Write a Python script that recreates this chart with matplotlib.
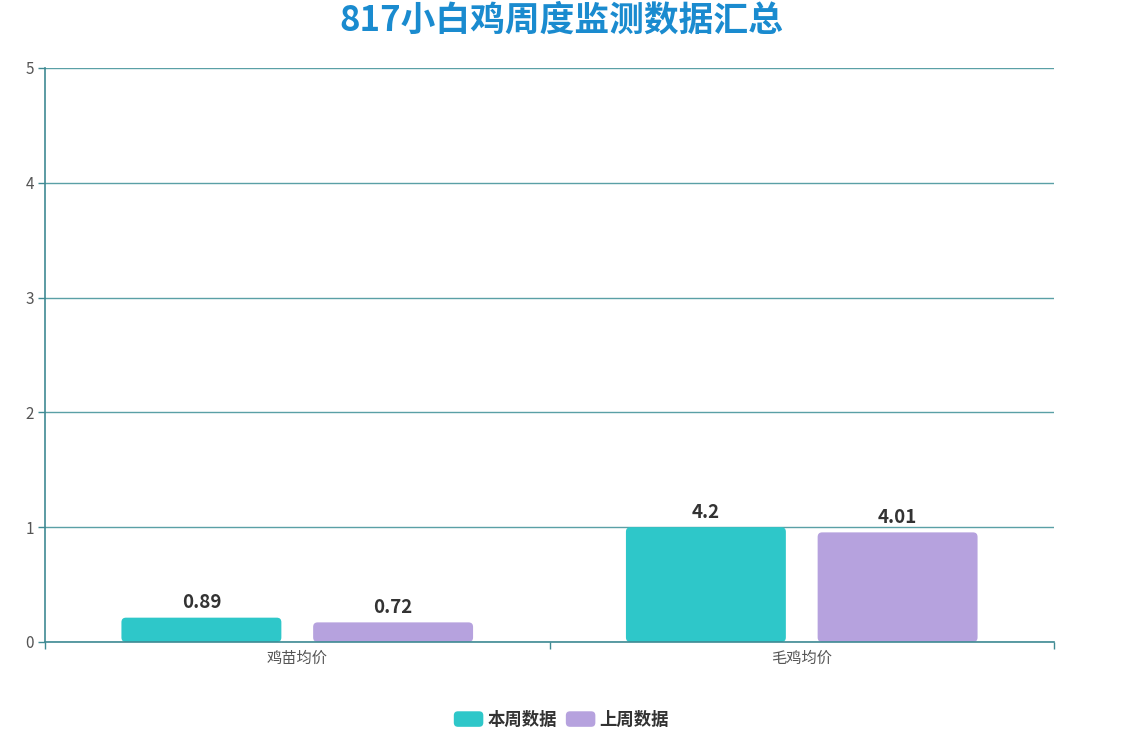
import matplotlib
matplotlib.use("Agg")
import matplotlib.pyplot as plt
from matplotlib.patches import FancyBboxPatch, Patch
from matplotlib.legend_handler import HandlerPatch

plt.rcParams['font.family'] = ['Noto Sans CJK SC', 'DejaVu Sans']

title = "817小白鸡周度监测数据汇总"
categories = ["鸡苗均价", "毛鸡均价"]
series_names = ["本周数据", "上周数据"]
# bar heights as drawn on the chart's axis (normalised display)
this_week_heights = [0.212, 1.0]
last_week_heights = [0.171, 0.955]
# labels shown above the bars
this_week_labels = ["0.89", "4.2"]
last_week_labels = ["0.72", "4.01"]
y_ticks = [0, 1, 2, 3, 4, 5]
colors = ["#2ec7c9", "#b6a2de"]

W, H = 1123, 735
fig = plt.figure(figsize=(W / 100, H / 100), dpi=100)
ax = fig.add_axes([45 / W, 1 - 642 / H, (1054 - 45) / W, (642 - 68) / H])

axis_color = "#3f8a93"
grid_color = "#5aa0a6"
ax.set_xlim(-0.5, len(categories) - 0.5)
ax.set_ylim(0, 5)
ax.set_yticks(y_ticks)
ax.set_yticklabels([str(t) for t in y_ticks])
ax.yaxis.grid(True, color=grid_color, linewidth=1)
ax.set_axisbelow(True)
for s in ["top", "right"]:
    ax.spines[s].set_visible(False)
ax.spines["left"].set_color(axis_color)
ax.spines["bottom"].set_color(axis_color)
ax.spines["left"].set_linewidth(1.2)
ax.spines["bottom"].set_linewidth(1.2)

# x ticks at category boundaries, labels at centres
ax.set_xticks([i - 0.5 for i in range(len(categories) + 1)])
ax.set_xticklabels([""] * (len(categories) + 1))
ax.set_xticks(range(len(categories)), minor=True)
ax.set_xticklabels(categories, minor=True)
ax.tick_params(axis="x", which="major", length=5, color=axis_color, width=1)
ax.tick_params(axis="x", which="minor", length=0, labelsize=11, labelcolor="#555555", pad=6)
ax.tick_params(axis="y", length=5, color=axis_color, width=1, labelsize=11, labelcolor="#555555", pad=3)

bar_w = 0.317
offset = 0.19
px_per_x = (1054 - 45) / 2.0
px_per_y = (642 - 68) / 5.0
aspect = px_per_x / px_per_y
for heights, labels, color, sign in [
    (this_week_heights, this_week_labels, colors[0], -1),
    (last_week_heights, last_week_labels, colors[1], 1),
]:
    bars = ax.bar([i + sign * offset for i in range(len(categories))], heights,
                  width=bar_w, color=color, alpha=0)
    for b, lab in zip(bars, labels):
        x0, w, h = b.get_x(), b.get_width(), b.get_height()
        patch = FancyBboxPatch((x0, 0), w, h,
                               boxstyle="round,pad=0,rounding_size=0.009",
                               mutation_aspect=aspect,
                               facecolor=color, edgecolor="none")
        ax.add_patch(patch)
        ax.annotate(lab, (x0 + w / 2, h), xytext=(0, 4), textcoords="offset points",
                    ha="center", va="bottom", fontsize=13.5, fontweight="bold",
                    color="#333333")

fig.text(0.5, 1 - 20 / H, title, ha="center", va="center", fontsize=25,
         fontweight="bold", color="#1a8bcf")

class RoundHandler(HandlerPatch):
    def create_artists(self, legend, orig_handle, xdescent, ydescent, width, height, fontsize, trans):
        p = FancyBboxPatch((-xdescent, -ydescent), width, height,
                           boxstyle="round,pad=0,rounding_size=3",
                           facecolor=orig_handle.get_facecolor(), edgecolor="none",
                           transform=trans)
        return [p]

handles = [Patch(facecolor=c) for c in colors]
leg = fig.legend(handles, series_names, loc="center", bbox_to_anchor=(0.5, 1 - 720 / H),
                 ncol=2, frameon=False, handler_map={Patch: RoundHandler()},
                 handlelength=1.7, handleheight=1.0, handletextpad=0.25, columnspacing=0.5,
                 prop={"size": 12.5, "weight": "bold", "style": "italic"})
for t in leg.get_texts():
    t.set_color("#333333")

fig.savefig("out.png", dpi=100)
